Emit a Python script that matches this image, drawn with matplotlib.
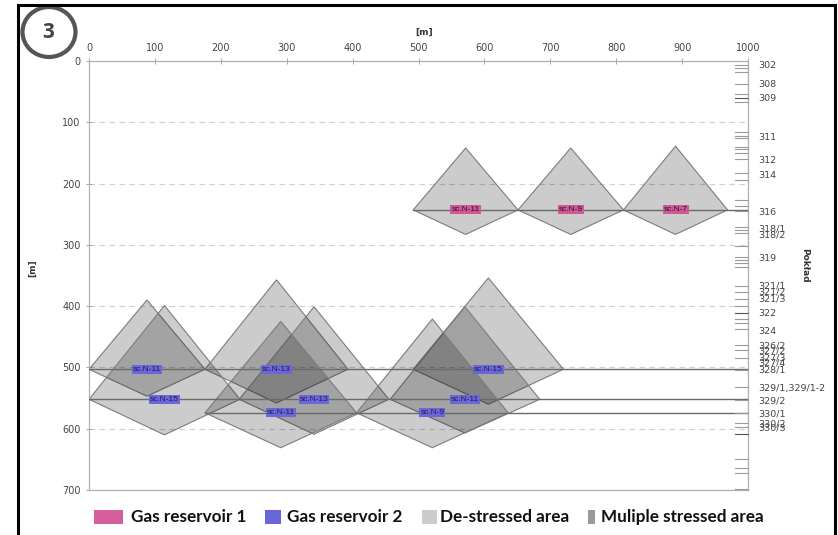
import matplotlib
matplotlib.use("Agg")
import matplotlib.pyplot as plt
from matplotlib.patches import Polygon, Rectangle, Ellipse
from matplotlib.lines import Line2D

# exploitation panels (metres): name, seam depth, left/right edge, top/bottom of stress zone
panel_names = ["sc.N-11", "sc.N-9", "sc.N-7",
               "sc.N-11", "sc.N-13", "sc.N-15",
               "sc.N-15", "sc.N-13", "sc.N-11",
               "sc.N-11", "sc.N-9"]
panel_seam = [243, 243, 243, 503, 503, 503, 552, 552, 552, 574, 574]
panel_left = [492, 651, 811, 0, 176, 492, 0, 228, 457, 176, 406]
panel_right = [651, 811, 969, 176, 393, 720, 229, 455, 684, 406, 636]
panel_top = [142, 142, 139, 390, 357, 354, 399, 401, 401, 425, 421]
panel_bottom = [283, 283, 283, 547, 558, 560, 610, 609, 607, 631, 631]
panel_reservoir = [1, 1, 1, 2, 2, 2, 2, 2, 2, 2, 2]

# worked seams drawn as horizontal lines
seam_line_depth = [243, 503, 552, 574]
seam_line_start = [492, 0, 0, 176]

# seam column on the right
seam_labels = ["302", "308", "309", "311", "312", "314", "316", "318/1", "318/2",
               "319", "321/1", "321/2", "321/3", "322", "324", "326/2", "327/2",
               "327/3", "327/4", "328/1", "329/1,329/1-2", "329/2", "330/1",
               "330/2", "330/3"]
seam_label_depth = [6.5, 37.5, 60, 124, 160, 186, 245, 272, 282, 321, 365, 375,
                    386, 411, 439, 463, 471, 483, 491, 502, 532, 553, 574, 590, 598]
seam_marks = [6.5, 11, 18, 37.5, 54, 60, 67, 116, 122, 126, 140, 143, 150, 160,
              183, 194, 227, 236, 245, 271, 276, 280, 302, 320, 324, 329, 336,
              367, 377, 388, 399, 411, 421, 427, 437, 463, 471, 484, 504, 532,
              553, 574, 590, 597, 608, 649, 664, 672, 699]
seam_marks_dark = [60, 411, 608]

legend_labels = ["Gas reservoir 1", "Gas reservoir 2", "De-stressed area",
                 "Muliple stressed area"]
legend_colors = ["#d45f9b", "#6666d6", "#cccccc", "#9a9a9a"]
reservoir_colors = {1: "#d2579a", 2: "#6b67d8"}

W, H = 838, 535
fig = plt.figure(figsize=(W / 100, H / 100), dpi=100)
ax = fig.add_axes([89 / W, 1 - 490 / H, 659 / W, 429 / H])

ax.set_xlim(0, 1000)
ax.set_ylim(700, 0)
ax.xaxis.tick_top()
ax.set_xticks(range(0, 1001, 100))
ax.set_yticks(range(0, 701, 100))
ax.tick_params(direction="inout", length=4, width=0.6, color="#999999",
               labelsize=7, labelcolor="#444444", pad=4)
for s in ax.spines.values():
    s.set_color("#b0b0b0")
    s.set_linewidth(0.9)
ax.grid(axis="y", color="#cfcfcf", linestyle=(0, (5, 4)), linewidth=0.8)
ax.set_axisbelow(True)

for i in range(len(panel_names)):
    c = (panel_left[i] + panel_right[i]) / 2
    pts = [(panel_left[i], panel_seam[i]), (c, panel_top[i]),
           (panel_right[i], panel_seam[i]), (c, panel_bottom[i])]
    ax.add_patch(Polygon(pts, closed=True, facecolor=(0, 0, 0, 0.2),
                         edgecolor="#7c7c7c", linewidth=0.8, zorder=2))

for d, x0 in zip(seam_line_depth, seam_line_start):
    ax.plot([x0, 1000], [d, d], color="#6a6a6a", linewidth=1.0, zorder=3)

for i in range(len(panel_names)):
    c = (panel_left[i] + panel_right[i]) / 2
    txtc = "#1a1a1a" if panel_reservoir[i] == 1 else "#1c1c50"
    ax.text(c, panel_seam[i], panel_names[i], fontsize=6, color=txtc,
            ha="center", va="center", zorder=4, family="Liberation Sans",
            bbox=dict(boxstyle="square,pad=0.12", facecolor=reservoir_colors[panel_reservoir[i]],
                      edgecolor="none"))

# seam marks along the right axis
for d in seam_marks:
    col = "#555555" if d in seam_marks_dark else "#9a9a9a"
    ax.plot([980, 1000], [d, d], color=col, linewidth=0.8, zorder=3, clip_on=False)

ax2 = ax.twinx()
ax2.set_ylim(700, 0)
ax2.set_yticks(seam_label_depth)
ax2.set_yticklabels(seam_labels)
ax2.tick_params(length=0, labelsize=6.8, labelcolor="#444444", pad=7)
for s in ax2.spines.values():
    s.set_visible(False)

ax.set_xlabel("[m]", fontsize=6.5, fontweight="bold", color="#333333")
ax.xaxis.set_label_position("top")
ax.xaxis.set_label_coords((424 - 89) / 659, 1 + 26 / 429)
ax.set_ylabel("[m]", fontsize=6.5, fontweight="bold", color="#333333")
ax.yaxis.set_label_coords((37 - 89) / 659, (490 - 268) / 429)
fig.text(805 / W, 1 - 265 / H, "Pokład", rotation=270, fontsize=6.5,
         fontweight="bold", color="#333333", ha="center", va="center")

# legend at the bottom
leg_rect_x = [94, 265, 422, 588]
leg_rect_w = [29, 16, 15, 7]
leg_text_x = [131, 287, 440, 601]
for lab, col, rx, rw, tx in zip(legend_labels, legend_colors, leg_rect_x, leg_rect_w, leg_text_x):
    fig.add_artist(Rectangle((rx / W, 1 - 524 / H), rw / W, 14 / H,
                             transform=fig.transFigure, facecolor=col, edgecolor="none"))
    fig.text(tx / W, 1 - 517 / H, lab, fontsize=12.3, fontweight="bold",
             family="Lato", color="#111111", va="center", ha="left")

# badge and frame
fig.add_artist(Ellipse((49 / W, 1 - 32 / H), 53 / W, 50 / H, transform=fig.transFigure,
                       facecolor="white", edgecolor="#555555", linewidth=3))
fig.text(48 / W, 1 - 32 / H, "3", fontsize=15, fontweight="bold", color="#444444",
         ha="center", va="center", family="Open Sans")
for xs, ys in [([18, 18], [534, 5]), ([18, 835], [5, 5]), ([835, 835], [5, 534])]:
    fig.add_artist(Line2D([x / W for x in xs], [1 - y / H for y in ys],
                          transform=fig.transFigure, color="black", linewidth=2.2))

fig.savefig("out.png", dpi=100)
